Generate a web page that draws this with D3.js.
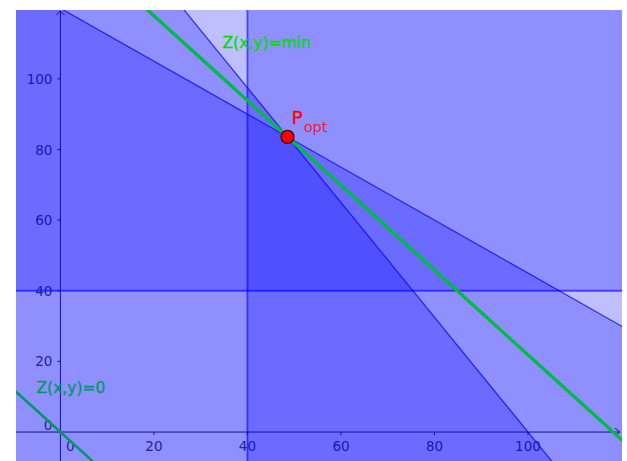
<!DOCTYPE html>
<html>
<head>
<meta charset="utf-8">
<script src="https://cdn.jsdelivr.net/npm/d3@7"></script>
<style>
  html, body { margin: 0; padding: 0; background: #fff; }
  svg { display: block; }
  text { font-family: "DejaVu Sans", sans-serif; }
</style>
</head>
<body>
<script>
// ---- data ----
// constraints written as a*x + b*y <= c (shaded half-planes)
const constraintNames = ["x>=40", "y>=40", "3x+4y<=480", "13x+8y<=1300"];
const constraintA = [-1, 0, 3, 13];
const constraintB = [0, -1, 4, 8];
const constraintC = [-40, -40, 480, 1300];
// objective Z(x,y) = 6x + 5y
const objective = [6, 5];
const xTicks = [0, 20, 40, 60, 80, 100];
const yTicks = [0, 20, 40, 60, 80, 100];
const xDomain = [-9.5, 120.1];
const yDomain = [-8.2, 119.5];
const labelMin = "Z(x,y)=min";
const labelZero = "Z(x,y)=0";
const labelPoint = ["P", "opt"];

// ---- layout ----
const W = 627, H = 461;
const plot = { left: 16, top: 10, right: 622, bottom: 461 };

const x = d3.scaleLinear().domain(xDomain).range([plot.left, plot.right]);
const y = d3.scaleLinear().domain(yDomain).range([plot.bottom, plot.top]);

const svg = d3.select("body").append("svg").attr("width", W).attr("height", H);
svg.append("defs").append("clipPath").attr("id", "clip")
  .append("rect").attr("x", plot.left).attr("y", plot.top)
  .attr("width", plot.right - plot.left).attr("height", plot.bottom - plot.top);

const g = svg.append("g").attr("clip-path", "url(#clip)");

// ---- axes (drawn first, shading overlays them as in GeoGebra) ----
const axisG = g.append("g");
const axisColor = "#222";
const labelColor = "#404040";
const x0 = x(0), y0 = y(0);
axisG.append("line").attr("x1", plot.left).attr("x2", plot.right - 2)
  .attr("y1", y0).attr("y2", y0).attr("stroke", axisColor).attr("stroke-width", 1);
axisG.append("line").attr("x1", x0).attr("x2", x0)
  .attr("y1", plot.bottom).attr("y2", plot.top + 1).attr("stroke", axisColor).attr("stroke-width", 1);
// arrows
axisG.append("path").attr("d", `M${x0 - 4},${plot.top + 5} L${x0},${plot.top + 1} L${x0 + 4},${plot.top + 5}`)
  .attr("fill", "none").attr("stroke", axisColor).attr("stroke-width", 1);
axisG.append("path").attr("d", `M${plot.right - 7},${y0 - 4} L${plot.right - 2},${y0} L${plot.right - 7},${y0 + 4}`)
  .attr("fill", "none").attr("stroke", axisColor).attr("stroke-width", 1);
// ticks
xTicks.filter(d => d !== 0).forEach(d => {
  axisG.append("line").attr("x1", x(d)).attr("x2", x(d)).attr("y1", y0).attr("y2", y0 + 3)
    .attr("stroke", axisColor);
});
yTicks.filter(d => d !== 0).forEach(d => {
  axisG.append("line").attr("x1", x0 - 3).attr("x2", x0).attr("y1", y(d)).attr("y2", y(d))
    .attr("stroke", axisColor);
});
// tick labels
xTicks.forEach(d => {
  axisG.append("text").attr("x", d === 0 ? x(d) + 10 : x(d)).attr("y", y0 + 19)
    .attr("text-anchor", "middle").attr("font-size", 13.5).attr("fill", labelColor).text(d);
});
yTicks.forEach(d => {
  axisG.append("text").attr("x", x0 - 8).attr("y", d === 0 ? y(d) - 2 : y(d) + 5)
    .attr("text-anchor", "end").attr("font-size", 13.5).attr("fill", labelColor).text(d);
});

// ---- half-plane shading ----
function clipHalf(poly, a, b, c) {
  const out = [];
  const n = poly.length;
  for (let i = 0; i < n; i++) {
    const cur = poly[i], prev = poly[(i - 1 + n) % n];
    const fc = a * cur[0] + b * cur[1] - c;
    const fp = a * prev[0] + b * prev[1] - c;
    const inter = () => {
      const t = fp / (fp - fc);
      return [prev[0] + t * (cur[0] - prev[0]), prev[1] + t * (cur[1] - prev[1])];
    };
    if (fc <= 0) {
      if (fp > 0) out.push(inter());
      out.push(cur);
    } else if (fp <= 0) {
      out.push(inter());
    }
  }
  return out;
}
const big = [[-30, -30], [150, -30], [150, 150], [-30, 150]];
const lineGen = d3.line().x(d => x(d[0])).y(d => y(d[1]));

const shadeG = g.append("g");
constraintNames.forEach((name, i) => {
  const poly = clipHalf(big, constraintA[i], constraintB[i], constraintC[i]);
  shadeG.append("path").attr("d", lineGen(poly) + "Z")
    .attr("fill", "#0000ff").attr("fill-opacity", 0.25).attr("stroke", "none");
});
// boundaries
function lineEnds(a, b, c) {
  if (b === 0) return [[c / a, -30], [c / a, 150]];
  return [[-30, (c - a * -30) / b], [150, (c - a * 150) / b]];
}
constraintNames.forEach((name, i) => {
  const pts = lineEnds(constraintA[i], constraintB[i], constraintC[i]);
  const axisParallel = constraintA[i] === 0 || constraintB[i] === 0;
  shadeG.append("path").attr("d", lineGen(pts))
    .attr("fill", "none").attr("stroke", "#0000ff")
    .attr("stroke-opacity", axisParallel ? 0.6 : 0.75)
    .attr("stroke-width", axisParallel ? 1.8 : 1.2);
});

// ---- optimum point (intersection of the two slanted constraints) ----
const a1 = constraintA[2], b1 = constraintB[2], c1 = constraintC[2];
const a2 = constraintA[3], b2 = constraintB[3], c2 = constraintC[3];
const det = a1 * b2 - a2 * b1;
const px = (c1 * b2 - c2 * b1) / det;
const py = (a1 * c2 - a2 * c1) / det;
const zOpt = objective[0] * px + objective[1] * py;

// ---- objective lines ----
const lineG = g.append("g");
lineG.append("path").attr("d", lineGen(lineEnds(objective[0], objective[1], 0)))
  .attr("fill", "none").attr("stroke", "#009966").attr("stroke-width", 2.6);
lineG.append("path").attr("d", lineGen(lineEnds(objective[0], objective[1], zOpt)))
  .attr("fill", "none").attr("stroke", "#00bb44").attr("stroke-width", 3.4);

// point
lineG.append("circle").attr("cx", x(px)).attr("cy", y(py)).attr("r", 6.5)
  .attr("fill", "#ff0000").attr("stroke", "#400000").attr("stroke-width", 1.2);

// labels
const lab = svg.append("g");
const ptText = lab.append("text").attr("x", x(px) + 4).attr("y", y(py) - 13)
  .attr("fill", "#ff0000");
ptText.append("tspan").attr("font-size", 18.5).attr("stroke", "#ff0000").attr("stroke-width", 0.3).text(labelPoint[0]);
ptText.append("tspan").attr("font-size", 14.5).attr("fill", "#ee2233").attr("dx", 1).attr("dy", 8).text(labelPoint[1]);

lab.append("text").attr("x", 222.5).attr("y", 47.5).attr("font-size", 15.5)
  .attr("fill", "#00dd00").attr("stroke", "#00dd00").attr("stroke-width", 0.35).text(labelMin);
lab.append("text").attr("x", 36.5).attr("y", 392.5).attr("font-size", 15.5)
  .attr("fill", "#009966").attr("stroke", "#009966").attr("stroke-width", 0.35).text(labelZero);
</script>
</body>
</html>
